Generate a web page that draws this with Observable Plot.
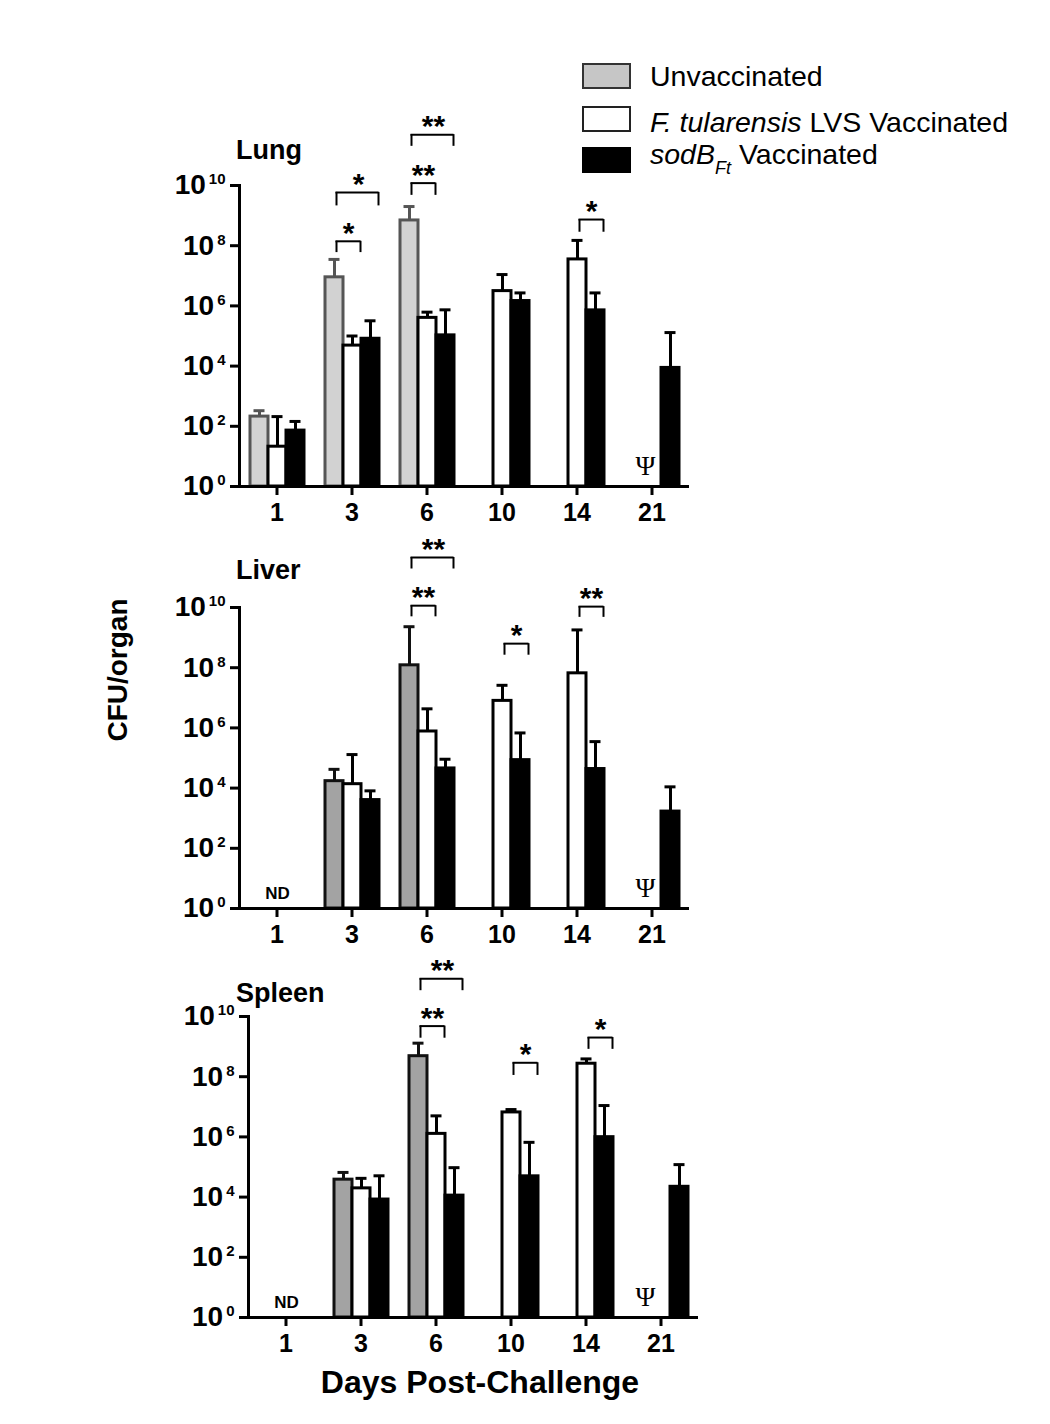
<!DOCTYPE html>
<html>
<head>
<meta charset="utf-8">
<script src="https://cdn.jsdelivr.net/npm/d3@7"></script>
<script src="https://cdn.jsdelivr.net/npm/@observablehq/plot@0.6"></script>
<style>
  body { margin: 0; background: #fff; font-family: "Liberation Sans", Arial, sans-serif; }
  #page { position: relative; width: 1050px; height: 1424px; overflow: hidden; background: #fff; }
  .abs { position: absolute; white-space: nowrap; line-height: 1; color: #000; }
  .sw { position: absolute; box-sizing: border-box; }
</style>
</head>
<body>
<div id="page"></div>
<script>
// ---------- data ----------
const days = ["1", "3", "6", "10", "14", "21"];
const groups = ["Unvaccinated", "F. tularensis LVS Vaccinated", "sodBFt Vaccinated"];
const yTicks = [1e0, 1e2, 1e4, 1e6, 1e8, 1e10];
const yTickExps = ["0", "2", "4", "6", "8", "10"];

// Lung (CFU/organ, mean and upper error)
const lungUnvacc    = [210, 8.9e6, 6.9e8, null, null, null];
const lungUnvaccErr = [330, 3.5e7, 2.0e9, null, null, null];
const lungLVS       = [21, 4.8e4, 4.0e5, 3.1e6, 3.5e7, null];
const lungLVSErr    = [210, 1.0e5, 6.2e5, 1.1e7, 1.5e8, null];
const lungSod       = [72, 8.1e4, 1.05e5, 1.45e6, 7.1e5, 8.7e3];
const lungSodErr    = [145, 3.2e5, 7.4e5, 2.7e6, 2.7e6, 1.3e5];

// Liver
const liverUnvacc    = [null, 1.7e4, 1.2e8, null, null, null];
const liverUnvaccErr = [null, 4.2e4, 2.3e9, null, null, null];
const liverLVS       = [null, 1.35e4, 7.6e5, 7.9e6, 6.5e7, null];
const liverLVSErr    = [null, 1.3e5, 4.3e6, 2.6e7, 1.8e9, null];
const liverSod       = [null, 4.0e3, 4.5e4, 8.5e4, 4.3e4, 1.66e3];
const liverSodErr    = [null, 8.1e3, 9.1e4, 6.8e5, 3.5e5, 1.1e4];

// Spleen
const spleenUnvacc    = [null, 3.8e4, 4.8e8, null, null, null];
const spleenUnvaccErr = [null, 6.6e4, 1.3e9, null, null, null];
const spleenLVS       = [null, 1.95e4, 1.26e6, 6.5e6, 2.7e8, null];
const spleenLVSErr    = [null, 4.2e4, 5.0e6, 8.1e6, 3.9e8, null];
const spleenSod       = [null, 8.3e3, 1.12e4, 4.9e4, 9.8e5, 2.2e4];
const spleenSodErr    = [null, 5.1e4, 9.5e4, 6.6e5, 1.1e7, 1.2e5];

// significance brackets: day, from group index, to group index, bracket top, leg bottom, label
const lungSig = [
  {day: "3", from: 0, to: 1, top: 1.4e8, leg: 5.9e7, label: "*"},
  {day: "3", from: 0, to: 2, top: 5.9e9, leg: 2.1e9, label: "*"},
  {day: "6", from: 0, to: 1, top: 1.2e10, leg: 4.7e9, label: "**"},
  {day: "6", from: 0, to: 2, top: 4.9e11, leg: 2.0e11, label: "**"},
  {day: "14", from: 1, to: 2, top: 7.4e8, leg: 2.8e8, label: "*"}
];
const liverSig = [
  {day: "6", from: 0, to: 1, top: 1.15e10, leg: 4.9e9, label: "**"},
  {day: "6", from: 0, to: 2, top: 4.6e11, leg: 1.9e11, label: "**"},
  {day: "10", from: 1, to: 2, top: 6.3e8, leg: 2.6e8, label: "*"},
  {day: "14", from: 1, to: 2, top: 1.07e10, leg: 4.7e9, label: "**"}
];
const spleenSig = [
  {day: "6", from: 0, to: 1, top: 4.8e9, leg: 1.9e9, label: "**"},
  {day: "6", from: 0, to: 2, top: 1.8e11, leg: 7.2e10, label: "**"},
  {day: "10", from: 1, to: 2, top: 2.9e8, leg: 1.1e8, label: "*"},
  {day: "14", from: 1, to: 2, top: 2.0e9, leg: 8.1e8, label: "*"}
];

// ---------- helpers ----------
function rows(series) {
  const out = [];
  groups.forEach((g, gi) => {
    const [vals, errs] = series[gi];
    days.forEach((d, di) => {
      if (vals[di] != null) out.push({day: d, group: g, value: vals[di], err: errs[di]});
    });
  });
  return out;
}

function fixExponents(svg) {
  const ns = "http://www.w3.org/2000/svg";
  svg.querySelectorAll("text").forEach(t => {
    const m = (t.textContent || "").match(/^10\^(\d+)$/);
    if (!m) return;
    t.textContent = "";
    t.style.fontSize = "28px";
    t.style.fontWeight = "bold";
    const base = document.createElementNS(ns, "tspan");
    base.textContent = "10";
    base.style.fontSize = "28px";
    const sup = document.createElementNS(ns, "tspan");
    sup.textContent = m[1];
    sup.setAttribute("dx", "3");
    sup.setAttribute("dy", "-10");
    sup.style.fontSize = "15px";
    t.appendChild(base);
    t.appendChild(sup);
  });
}

function panel(cfg) {
  const data = rows(cfg.series);
  const fills = {[groups[0]]: cfg.greyFill, [groups[1]]: "white", [groups[2]]: "black"};
  const strokes = {[groups[0]]: cfg.greyStroke, [groups[1]]: "black", [groups[2]]: "black"};
  const barMarks = [];
  groups.forEach(g => {
    const sub = data.filter(r => r.group === g);
    barMarks.push(Plot.barY(sub, {fx: "day", x: "group", y1: () => 1, y2: "value",
      fill: fills[g], stroke: strokes[g], strokeWidth: 3, inset: 0}));
    barMarks.push(Plot.ruleX(sub, {fx: "day", x: "group", y1: "value", y2: "err",
      stroke: strokes[g], strokeWidth: 3}));
    barMarks.push(Plot.tickY(sub, {fx: "day", x: "group", y: "err",
      stroke: strokes[g], strokeWidth: 3, insetLeft: 3.5, insetRight: 3.5}));
  });
  const adj = cfg.sig.filter(s => s.to - s.from === 1);
  const wide = cfg.sig.filter(s => s.to - s.from === 2);
  const svg = Plot.plot({
    width: cfg.width, height: cfg.height,
    marginLeft: cfg.marginLeft, marginRight: cfg.marginRight,
    marginTop: cfg.marginTop, marginBottom: cfg.marginBottom,
    style: {background: "transparent", overflow: "visible", color: "black",
            fontFamily: "Liberation Sans, Arial, sans-serif"},
    fx: {domain: days, padding: 0},
    x: {domain: groups, paddingInner: 0, paddingOuter: 0.49, axis: null},
    y: {type: "log", domain: [1, 1e10]},
    marks: [
      ...barMarks,
      Plot.ruleY([1], {strokeWidth: 3}),
      Plot.frame({anchor: "left", facetAnchor: "left", strokeWidth: 3}),
      Plot.axisY({ticks: yTicks, tickFormat: d => "10^" + yTickExps[yTicks.indexOf(d)],
        tickSize: 9, tickPadding: 5, fontSize: 28, fontWeight: "bold", strokeWidth: 3, label: null}),
      Plot.axisFx({anchor: "bottom", tickSize: 9, tickPadding: 8, fontSize: 25, fontWeight: "bold",
        strokeWidth: 3, label: null}),
      // significance brackets: legs and top bar
      Plot.ruleX(cfg.sig, {fx: "day", x: s => groups[s.from], y1: "leg", y2: "top",
        stroke: "black", strokeWidth: 2, dx: 2}),
      Plot.ruleX(cfg.sig, {fx: "day", x: s => groups[s.to], y1: "leg", y2: "top",
        stroke: "black", strokeWidth: 2, dx: 8}),
      Plot.ruleY(cfg.sig, {fx: "day", x1: s => groups[s.from], x2: s => groups[s.to], y: "top",
        stroke: "black", strokeWidth: 2, insetLeft: 10.5, insetRight: 0.5}),
      Plot.text(adj, {fx: "day", x: s => groups[s.from], y: "top", text: "label",
        dx: 14, dy: 1.5, lineAnchor: "bottom", fontSize: 30, fontWeight: "bold"}),
      Plot.text(wide, {fx: "day", x: () => groups[1], y: "top", text: "label",
        dx: 6, dy: 1.5, lineAnchor: "bottom", fontSize: 30, fontWeight: "bold"}),
      Plot.text(cfg.ndDays, {fx: d => d, x: () => groups[1], y: () => 1, text: () => "ND",
        dy: -10, lineAnchor: "bottom", fontSize: 17, fontWeight: "bold"}),
      Plot.text(cfg.psiDays, {fx: d => d, x: () => groups[1], y: () => 1, text: () => "Ψ",
        dx: cfg.psiDx, dy: -12, lineAnchor: "bottom", fontSize: 27,
        fontFamily: "Liberation Serif, Times New Roman, serif"})
    ]
  });
  fixExponents(svg);
  svg.style.position = "absolute";
  svg.style.left = cfg.left + "px";
  svg.style.top = cfg.top + "px";
  return svg;
}

const page = document.getElementById("page");

page.appendChild(panel({
  series: [[lungUnvacc, lungUnvaccErr], [lungLVS, lungLVSErr], [lungSod, lungSodErr]],
  sig: lungSig, greyFill: "#d2d2d2", greyStroke: "#555555",
  left: 0, top: 100, width: 702, height: 436,
  marginLeft: 238, marginRight: 12, marginTop: 85, marginBottom: 50,
  ndDays: [], psiDays: ["21"], psiDx: -7
}));
page.appendChild(panel({
  series: [[liverUnvacc, liverUnvaccErr], [liverLVS, liverLVSErr], [liverSod, liverSodErr]],
  sig: liverSig, greyFill: "#a3a3a3", greyStroke: "#111111",
  left: 0, top: 521, width: 702, height: 437,
  marginLeft: 238, marginRight: 12, marginTop: 86, marginBottom: 50,
  ndDays: ["1"], psiDays: ["21"], psiDx: -7
}));
page.appendChild(panel({
  series: [[spleenUnvacc, spleenUnvaccErr], [spleenLVS, spleenLVSErr], [spleenSod, spleenSodErr]],
  sig: spleenSig, greyFill: "#a3a3a3", greyStroke: "#111111",
  left: 0, top: 930, width: 710, height: 437,
  marginLeft: 247, marginRight: 12, marginTop: 86, marginBottom: 50,
  ndDays: ["1"], psiDays: ["21"], psiDx: -16
}));

// ---------- titles, axis titles, legend ----------
function addText(html, left, top, style) {
  const d = document.createElement("div");
  d.className = "abs";
  d.innerHTML = html;
  d.style.left = left + "px";
  d.style.top = top + "px";
  Object.assign(d.style, style || {});
  page.appendChild(d);
  return d;
}
const titleStyle = {fontSize: "27px", fontWeight: "bold"};
addText("Lung", 236, 137, titleStyle);
addText("Liver", 236, 557, titleStyle);
addText("Spleen", 236, 980, titleStyle);

addText("CFU/organ", 118, 670, {fontSize: "28px", fontWeight: "bold",
  transform: "translate(-50%, -50%) rotate(-90deg)"});
addText("Days Post-Challenge", 480, 1366, {fontSize: "32px", fontWeight: "bold",
  transform: "translateX(-50%)"});

function swatch(top, fill, border) {
  const s = document.createElement("div");
  s.className = "sw";
  Object.assign(s.style, {left: "582px", top: top + "px", width: "49px", height: "26px",
    background: fill, border: "2px solid " + border});
  page.appendChild(s);
}
swatch(63, "#c6c6c6", "#333");
swatch(106, "#fff", "#222");
swatch(147, "#000", "#000");
const legStyle = {fontSize: "28.5px"};
addText(groups[0], 650, 62, legStyle);
addText("<i>F. tularensis</i> LVS Vaccinated", 650, 108, legStyle);
addText("<i>sodB</i><sub style=\"font-size:18px;vertical-align:-10px;font-style:italic\">Ft</sub> Vaccinated", 650, 140, legStyle);
</script>
</body>
</html>
